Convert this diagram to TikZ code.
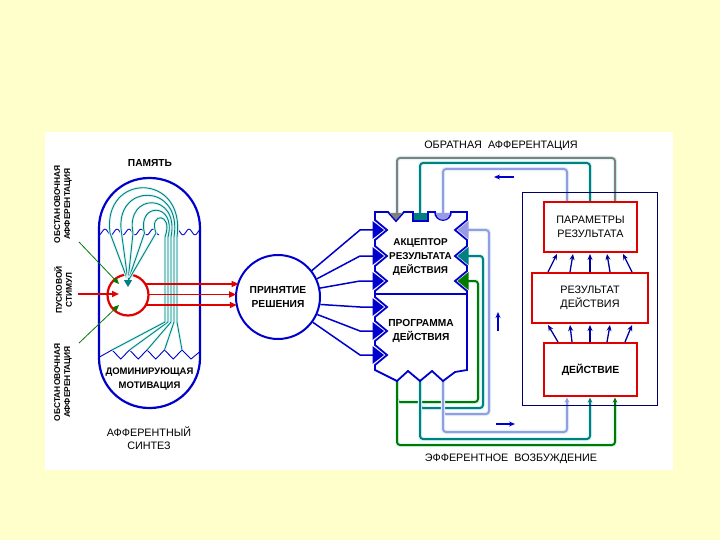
\documentclass[tikz,border=0pt]{standalone}
\usepackage{fontspec}
\setmainfont{Liberation Sans}
\usetikzlibrary{arrows.meta,calc}
\definecolor{bgyel}{HTML}{FFFFCC}
\definecolor{cblue}{HTML}{0000CC}
\definecolor{dblue}{HTML}{000099}
\definecolor{navy}{HTML}{000066}
\definecolor{cteal}{HTML}{008080}
\definecolor{cgreen}{HTML}{007A00}
\definecolor{cpurp}{HTML}{9999E6}
\definecolor{cgray}{HTML}{808080}
\definecolor{cred}{HTML}{E00000}
\definecolor{glow}{HTML}{DDF6F6}
\tikzset{
  capsule/.style={draw=cblue, line width=2.2pt, fill=white},
  thinblue/.style={draw=cblue, line width=0.9pt},
  tealln/.style={draw=cteal, line width=0.9pt, preaction={draw=glow, line width=2.8pt}},
  redarr/.style={draw=cred, line width=1.8pt, -{Triangle[length=7pt,width=6pt]}},
  grnarr/.style={draw=cgreen, line width=0.8pt, -{Triangle[length=6pt,width=5pt]}},
  blueln/.style={draw=cblue, line width=1.5pt},
  fbline/.style={line width=2pt, rounded corners=3pt, preaction={draw=glow, line width=4.2pt}},
  efarr/.style={-{Stealth[length=5pt,width=4.5pt]}},
  blockline/.style={draw=cblue, line width=1.8pt, line join=miter},
  redbox/.style={draw=cred, line width=2.4pt, fill=white, inner sep=0pt, align=center,
     font=\fontsize{10.8}{14}\selectfont},
  navyarr/.style={draw=dblue, line width=1.3pt, -{Stealth[length=6pt,width=5pt]}},
  dirarr/.style={draw=cblue, line width=1.6pt, -{Stealth[length=6pt,width=5pt]}},
  lbl/.style={font=\fontsize{10.2}{13.7}\selectfont\bfseries, align=center, inner sep=0pt},
  caption/.style={font=\fontsize{10.8}{12.8}\selectfont, align=center, inner sep=0pt},
  rotlbl/.style={font=\fontsize{8.4}{10}\selectfont\bfseries, align=center, inner sep=0pt, rotate=90},
}
\begin{document}
\begin{tikzpicture}[x=1pt,y=-1pt]
\useasboundingbox (0,0) rectangle (720,540);
\fill[bgyel] (0,0) rectangle (720,540);
\fill[white] (45,132) rectangle (673,470);

% ---------- afferent synthesis capsule ----------
\draw[capsule, rounded corners=50pt] (99,178) rectangle (200,408);
\draw[thinblue] plot[domain=99.5:159, samples=90, smooth] (\x,{232+2.8*sin(30*\x)});
\draw[thinblue] plot[domain=179:199.5, samples=40, smooth] (\x,{232+2.8*sin(30*\x)});
\draw[thinblue] (99.5,357) -- (112,350) -- (120.75,359) -- (129.5,350) -- (138.25,359)
  -- (147,350) -- (155.75,359) -- (164.5,350) -- (173.25,359) -- (182,350) -- (191,359) -- (199.5,352);

\node[circle, draw=cred, line width=2.2pt, fill=white, minimum size=41pt, inner sep=0pt] (rc) at (128,295) {};

% memory lines
\foreach \i in {0,...,4} {
  \pgfmathsetmacro\f{110+11.5*\i}
  \pgfmathsetmacro\v{177-3*\i}
  \pgfmathsetmacro\c{172+10*\i}
  \pgfmathsetmacro\p{182-17.5*\i}
  \draw[tealln] (128,281) -- (\f,233) .. controls (\f-8,\c) and (\v+9,\c) .. (\v,237) -- (\v,322) -- (\p,350);
}
\coordinate (memtip) at (128,287);
\draw[draw=cteal, line width=1pt, -{Triangle[length=7pt,width=8pt]}] (128,278) -- (memtip);

% inputs to the red circle
\coordinate (ob1) at (79,242);
\coordinate (ob2) at (79,343);
\coordinate (ps) at (78,294);
\draw[grnarr] (ob1) -- (119,284);
\draw[grnarr] (ob2) -- (119,305);
\draw[redarr] (ps) -- (119,294);

% decision circle
\node[circle, draw=cblue, line width=2pt, fill=white, minimum size=84pt, inner sep=0pt,
      font=\fontsize{10.2}{13.7}\selectfont\bfseries, align=center] (dc) at (278,297) {ПРИНЯТИЕ\\РЕШЕНИЯ};

\draw[redarr] (145.3,284) -- (238.6,284);
\draw[redarr] (148.3,294.5) -- (236.1,294.5);
\draw[redarr] (145.3,305) -- (236.8,305);

% blue lines from decision to block
\foreach \a/\y in {38/230, 25/256, 12/281, -10/307, -24/331, -36/355} {
  \draw[blueln] (dc.\a) -- (360,\y) -- (375,\y);
}

% ---------- feedback (обратная афферентация) ----------
\draw[fbline, draw=cgray]  (615,202) -- (615,158) -- (397,158) -- (397,213);
\draw[fbline, draw=cteal]  (590,202) -- (590,163) -- (420,163) -- (420,213);
\draw[fbline, draw=cpurp]  (567,202) -- (567,169) -- (443,169) -- (443,213);

% ---------- efferent lines ----------
\draw[fbline, draw=cgreen] (397,381) -- (397,402) -- (478,402) -- (478,281) -- (466,281);
\draw[fbline, draw=cteal]  (420,381) -- (420,408) -- (483,408) -- (483,256) -- (466,256);
\draw[fbline, draw=cpurp]  (443,381) -- (443,414) -- (489,414) -- (489,230) -- (466,230);
\draw[fbline, draw=cgreen, efarr] (397,400) -- (397,445) -- (615,445) -- (615,397.5);
\draw[fbline, draw=cteal, efarr]  (420,405) -- (420,439) -- (590,439) -- (590,397.5);
\draw[fbline, draw=cpurp, efarr]  (443,412) -- (443,432) -- (567,432) -- (567,397.5);

% ---------- acceptor / program block ----------
\draw[blockline, fill=white] (375,212) -- (388,212) -- (396,221) -- (404,212) -- (413,212)
  -- (413,221) -- (428,221) -- (428,212) -- (435,212) arc[start angle=180, end angle=0, radius=8]
  -- (467,212) -- (467,220) -- (455,230) -- (467,240) -- (467,246) -- (455,256) -- (467,266)
  -- (467,271) -- (455,281) -- (467,291) -- (467,370) -- (455,372) -- (443,381) -- (432,371)
  -- (420,381) -- (408,371) -- (397,381) -- (375,370) -- (375,365) -- (387,355) -- (375,345)
  -- (375,341) -- (387,331) -- (375,321) -- (375,317) -- (387,307) -- (375,297) -- (375,291)
  -- (387,281) -- (375,271) -- (375,266) -- (387,256) -- (375,246) -- (375,240) -- (387,230)
  -- (375,220) -- cycle;
\draw[blockline] (375,294) -- (467,294);

% notch fills (arrow heads)
\foreach \y in {230,256,281,307,331,355} {
  \fill[cblue] (372.5,\y-9) -- (384,\y) -- (372.5,\y+9) -- cycle;
}
\fill[cpurp]  (468.5,221) -- (457.5,230) -- (468.5,239) -- cycle;
\fill[cteal]  (468.5,247) -- (457.5,256) -- (468.5,265) -- cycle;
\fill[cgreen] (468.5,272) -- (457.5,281) -- (468.5,290) -- cycle;
\fill[cgray]  (389.5,213) -- (396,220) -- (402.5,213) -- cycle;
\fill[cteal]  (414.2,213) rectangle (426.8,219.8);
\fill[cpurp]  (436.2,213) arc[start angle=180, end angle=0, radius=6.8] -- cycle;

\node[lbl, font=\fontsize{9.9}{13.7}\selectfont\bfseries] (acc) at (420.5,257) {АКЦЕПТОР\\РЕЗУЛЬТАТА\\ДЕЙСТВИЯ};
\node[lbl] (prog) at (421,331) {ПРОГРАММА\\ДЕЙСТВИЯ};

% ---------- right part ----------
\draw[draw=navy, line width=0.8pt] (522,192) rectangle (657,405);
\node[redbox, minimum width=93pt, minimum height=50pt] (par) at (590.5,227) {ПАРАМЕТРЫ\\РЕЗУЛЬТАТА};
\node[redbox, minimum width=116pt, minimum height=50pt] (res) at (590,298) {РЕЗУЛЬТАТ\\ДЕЙСТВИЯ};
\node[redbox, minimum width=93pt, minimum height=53pt, font=\fontsize{10.4}{14}\selectfont\bfseries] (act) at (590.5,369.5) {ДЕЙСТВИЕ};

\foreach \b/\t in {548/557, 570/573, 590/590, 610/607, 632/623} {
  \draw[navyarr] (\b,272) -- (\t,254);
}
\foreach \b/\t in {558/548, 572/570, 590/590, 607/610, 625/632} {
  \draw[navyarr] (\b,342) -- (\t,325);
}

% direction arrows
\draw[dirarr] (514,177) -- (494,177);
\draw[dirarr] (498,331) -- (498,312);
\draw[dirarr] (496,424) -- (515,424);

% ---------- texts ----------
\node[lbl] (mem) at (150,163) {ПАМЯТЬ};
\node[lbl, font=\fontsize{9.5}{13.7}\selectfont\bfseries] (mot) at (149.5,379) {ДОМИНИРУЮЩАЯ\\МОТИВАЦИЯ};
\node[caption] (syn) at (149,438) {АФФЕРЕНТНЫЙ\\СИНТЕЗ};
\node[rotlbl] (lab1) at (63,204) {ОБСТАНОВОЧНАЯ\\АФФЕРЕНТАЦИЯ};
\node[rotlbl] (lab2) at (63,290) {ПУСКОВОЙ\\СТИМУЛ};
\node[rotlbl] (lab3) at (63,382) {ОБСТАНОВОЧНАЯ\\АФФЕРЕНТАЦИЯ};
\node[caption] (fbt) at (501,146) {ОБРАТНАЯ\ \ АФФЕРЕНТАЦИЯ};
\node[caption] (eft) at (511,459) {ЭФФЕРЕНТНОЕ\ \ ВОЗБУЖДЕНИЕ};
\end{tikzpicture}
\end{document}
